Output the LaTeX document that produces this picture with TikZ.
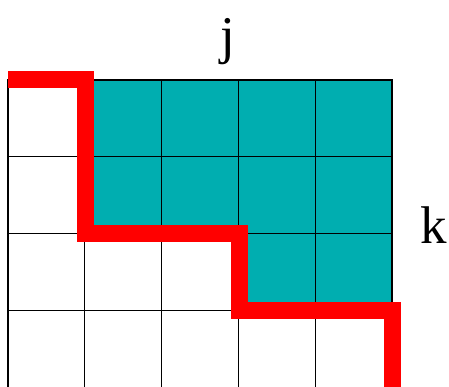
\documentclass[tikz,border=0pt]{standalone}
\usepackage{fontspec}
\setmainfont{Liberation Serif}
\definecolor{tealfill}{RGB}{0,174,176}
\begin{document}
\begin{tikzpicture}[x=1pt,y=-1pt,
  cell/.style={draw=black,line width=1.2pt},
  teal/.style={cell,fill=tealfill},
  redline/.style={draw=red,line width=17pt,line join=miter,line cap=butt},
  lbl/.style={font=\fontsize{53}{60}\selectfont,inner sep=0pt,anchor=base}]
\useasboundingbox (0,0) rectangle (449,387);
\def\cw{76.8}
% cells
\foreach \r in {0,1,2,3}{
  \foreach \c in {0,...,4}{
    \draw[cell] ({8+\c*\cw},{80+\r*\cw}) rectangle ++(\cw,\cw);
  }
}
\foreach \r/\c in {0/1,0/2,0/3,0/4,1/1,1/2,1/3,1/4,2/3,2/4}{
  \draw[teal] ({8+\c*\cw},{80+\r*\cw}) rectangle ++(\cw,\cw);
}
% red staircase
\coordinate (s) at (8,79.5);
\coordinate (p1) at (85.5,79.5);
\coordinate (p2) at (85.5,233.5);
\coordinate (p3) at (239,233.5);
\coordinate (p4) at (239,310.5);
\coordinate (p5) at (392.5,310.5);
\coordinate (e) at (392.5,390);
\draw[redline] (s) -- (p1) -- (p2) -- (p3) -- (p4) -- (p5) -- (e);
% labels
\node[lbl] (j) at (228,53.5) {j};
\node[lbl] (k) at (434,243) {k};
\end{tikzpicture}
\end{document}
